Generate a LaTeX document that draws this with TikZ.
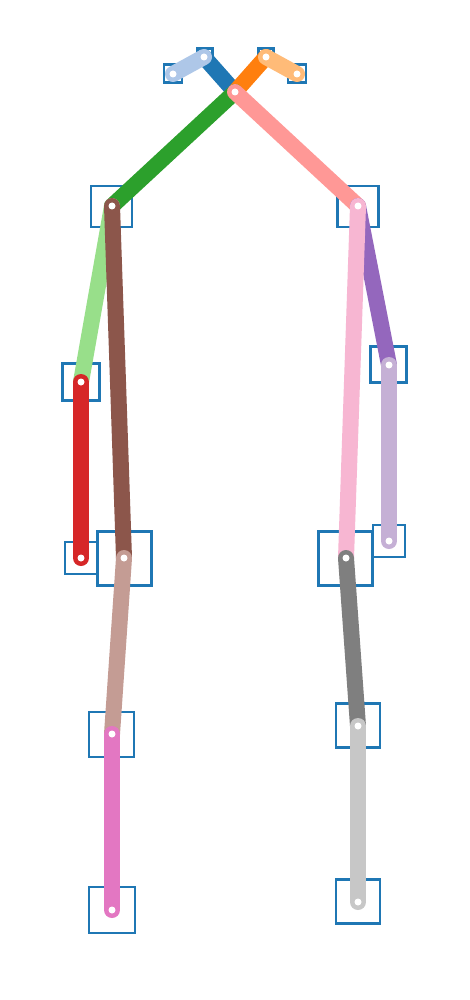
\documentclass[tikz,border=0pt]{standalone}
\definecolor{tabblue}{HTML}{1F77B4}
\definecolor{ltblue}{HTML}{AEC7E8}
\definecolor{taborange}{HTML}{FF7F0E}
\definecolor{ltorange}{HTML}{FFBB78}
\definecolor{tabgreen}{HTML}{2CA02C}
\definecolor{ltgreen}{HTML}{98DF8A}
\definecolor{tabred}{HTML}{D62728}
\definecolor{ltred}{HTML}{FF9896}
\definecolor{tabpurple}{HTML}{9467BD}
\definecolor{ltpurple}{HTML}{C5B0D5}
\definecolor{tabbrown}{HTML}{8C564B}
\definecolor{ltbrown}{HTML}{C49C94}
\definecolor{tabpink}{HTML}{E377C2}
\definecolor{ltpink}{HTML}{F7B6D2}
\definecolor{tabgray}{HTML}{7F7F7F}
\definecolor{ltgray}{HTML}{C7C7C7}
\begin{document}
\begin{tikzpicture}[x=1pt,y=-1pt,
  kbox/.style={draw=tabblue,line width=2.5pt,inner sep=0pt,minimum width=#1,minimum height=#1},
  limb/.style={line width=16pt,line cap=round,draw=#1},
  kdot/.style={fill=white,draw=none,circle,inner sep=0pt,minimum size=7pt}]
\useasboundingbox[fill=white] (0,0) rectangle (469,1000);
% keypoints
\coordinate (N) at (235,92);
\coordinate (HL) at (204,57);
\coordinate (HR) at (266,57);
\coordinate (EL) at (173,74);
\coordinate (ER) at (297,74);
\coordinate (SL) at (112,206);
\coordinate (SR) at (358,206);
\coordinate (BL) at (81,382);
\coordinate (BR) at (389,365);
\coordinate (WL) at (81,558);
\coordinate (WR) at (389,541);
\coordinate (PL) at (124,558);
\coordinate (PR) at (346,558);
\coordinate (KL) at (112,734);
\coordinate (KR) at (358,726);
\coordinate (AL) at (112,910);
\coordinate (AR) at (358,902);
% boxes
\node[kbox=15pt] (bHL) at (205,56) {};
\node[kbox=15pt] (bHR) at (266,56) {};
\node[kbox=18pt] (bEL) at (173,73.5) {};
\node[kbox=18pt] (bER) at (297,73.5) {};
\node[kbox=41pt] (bSL) at (111.5,206.5) {};
\node[kbox=41pt] (bSR) at (358,206.5) {};
\node[kbox=37pt] (bBL) at (81,382) {};
\node[kbox=36pt] (bBR) at (388.5,364.5) {};
\node[kbox=32pt] (bWL) at (81,558) {};
\node[kbox=32pt] (bWR) at (389,541) {};
\node[kbox=54pt] (bPL) at (124.5,558.5) {};
\node[kbox=54pt] (bPR) at (345.5,558.5) {};
\node[kbox=45pt] (bKL) at (111.5,734.5) {};
\node[kbox=44pt] (bKR) at (358,725.5) {};
\node[kbox=46pt] (bAL) at (112,910) {};
\node[kbox=44pt] (bAR) at (358,901.5) {};
% limbs
\draw[limb=tabblue] (N) -- (HL);
\draw[limb=ltblue] (HL) -- (EL);
\draw[limb=taborange] (N) -- (HR);
\draw[limb=ltorange] (HR) -- (ER);
\draw[limb=tabgreen] (N) -- (SL);
\draw[limb=ltred] (N) -- (SR);
\draw[limb=ltgreen] (SL) -- (BL);
\draw[limb=tabred] (BL) -- (WL);
\draw[limb=tabpurple] (SR) -- (BR);
\draw[limb=ltpurple] (BR) -- (WR);
\draw[limb=tabbrown] (SL) -- (PL);
\draw[limb=ltbrown] (PL) -- (KL);
\draw[limb=tabpink] (KL) -- (AL);
\draw[limb=ltpink] (SR) -- (PR);
\draw[limb=tabgray] (PR) -- (KR);
\draw[limb=ltgray] (KR) -- (AR);
% joint dots
\foreach \p in {N,HL,HR,EL,ER,SL,SR,BL,BR,WL,WR,PL,PR,KL,KR,AL,AR}
  \node[kdot] (d\p) at (\p) {};
\end{tikzpicture}
\end{document}
